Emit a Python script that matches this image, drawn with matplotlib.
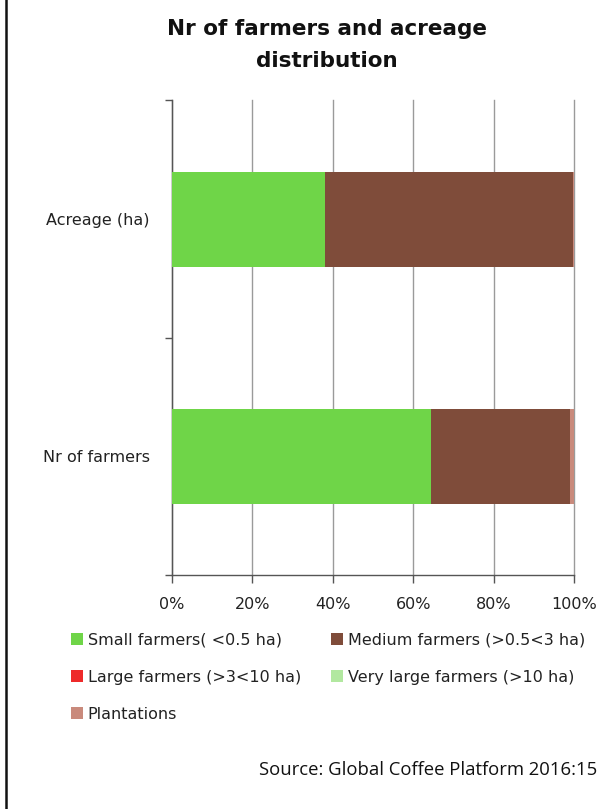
import matplotlib
matplotlib.use("Agg")
import matplotlib.pyplot as plt
from matplotlib.patches import Patch
from matplotlib.lines import Line2D
import numpy as np

# Share of each farm-size group (percent)
categories = ["Nr of farmers", "Acreage (ha)"]
small_farmers = [64.4, 38.1]
medium_farmers = [34.6, 61.7]
large_farmers = [0.0, 0.0]
very_large_farmers = [0.0, 0.0]
plantations = [1.0, 0.2]

series_labels = [
    "Small farmers( <0.5 ha)",
    "Medium farmers (>0.5<3 ha)",
    "Large farmers (>3<10 ha)",
    "Very large farmers (>10 ha)",
    "Plantations",
]
series_colors = ["#6fd548", "#7f4c3a", "#ee2a2a", "#b2e8a0", "#c98a7c"]
x_ticks = [0, 20, 40, 60, 80, 100]
x_tick_labels = ["0%", "20%", "40%", "60%", "80%", "100%"]

fig = plt.figure(figsize=(6.14, 8.09), dpi=100)
ax = fig.add_axes([0.280, 0.289, 0.655, 0.587])

series = [small_farmers, medium_farmers, large_farmers, very_large_farmers, plantations]
ypos = np.array([0.5, 1.5])
left = np.zeros(len(categories))
for vals, col in zip(series, series_colors):
    vals = np.array(vals)
    ax.barh(ypos, vals, left=left, height=0.4, color=col,
            edgecolor="none", zorder=3)
    left += vals

ax.set_xlim(0, 100)
ax.set_ylim(0, 2)
ax.set_xticks(x_ticks)
ax.set_xticklabels(x_tick_labels, fontsize=11.5, color="#222222")
ax.set_yticks([0, 1, 2])
ax.set_yticklabels([])
ax.set_yticks(ypos, minor=True)
ax.set_yticklabels(categories, minor=True, fontsize=11.5, color="#222222")
ax.tick_params(axis="y", which="minor", length=0, pad=16)
ax.tick_params(axis="y", which="major", length=5, width=1, color="#555555")
ax.tick_params(axis="x", length=6, width=1, color="#555555", pad=10)

ax.grid(axis="x", color="#9a9a9a", linewidth=1.0, zorder=0)
for gl in ax.get_xgridlines():
    gl.set_clip_on(False)
for s in ["top", "right"]:
    ax.spines[s].set_visible(False)
for s in ["left", "bottom"]:
    ax.spines[s].set_color("#555555")
    ax.spines[s].set_linewidth(1.0)

fig.text(0.532, 0.976, "Nr of farmers and acreage\ndistribution", ha="center",
         va="top", fontsize=15.5, fontweight="bold", linespacing=1.75,
         color="#111111")

handles = [Patch(facecolor=c, edgecolor="none") for c in series_colors]
order = [0, 2, 4, 1, 3]
leg = fig.legend([handles[i] for i in order], [series_labels[i] for i in order],
                 ncol=2, loc="upper left", bbox_to_anchor=(0.105, 0.226),
                 frameon=False, fontsize=11.5, handlelength=0.75,
                 handleheight=0.75, handletextpad=0.3, columnspacing=1.9,
                 labelspacing=1.38, borderaxespad=0)
for t in leg.get_texts():
    t.set_color("#222222")

fig.text(0.973, 0.048, "Source: Global Coffee Platform 2016:15", ha="right",
         va="center", fontsize=13.3, family="Open Sans", color="#111111")

fig.add_artist(Line2D([0.009, 0.009], [0, 1], transform=fig.transFigure,
                      color="#111111", linewidth=1.8))

fig.savefig("out.png", dpi=100)
